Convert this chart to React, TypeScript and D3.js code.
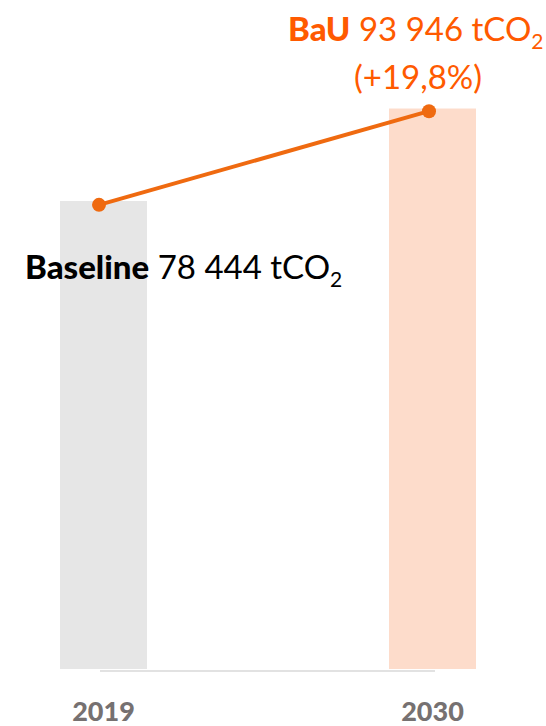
import React from "react";
import * as d3 from "d3";

const categories = ["2019", "2030"];
const barValues = [78444, 93946];
const lineValues = [77800, 93500];
const barColors = ["#e6e6e6", "#fddccb"];
const yearLabels = ["2019", "2030"];

const W = 546;
const H = 726;

export default function App() {
  const x = d3.scaleOrdinal<string, number>().domain(categories).range([60, 389]);
  const y = d3.scaleLinear().domain([0, 78444]).range([669, 201]);
  const lx = d3.scalePoint<string>().domain(categories).range([99, 429]);
  const bw = 87;
  const line = d3
    .line<number>()
    .x((_, i) => lx(categories[i]) as number)
    .y((d) => y(d));
  const font = "Lato, 'Open Sans', sans-serif";
  return (
    <svg
      width={W}
      height={H}
      style={{ position: "absolute", left: 0, top: 0, background: "#fff" }}
    >
      {barValues.map((v, i) => (
        <rect key={i} x={x(categories[i])} y={y(v)} width={bw} height={y(0) - y(v)} fill={barColors[i]} />
      ))}
      <line x1={100} x2={435} y1={671} y2={671} stroke="#d9d9d9" strokeWidth={1.5} />
      <path d={line(lineValues) || ""} fill="none" stroke="#ef6a10" strokeWidth={4} />
      {lineValues.map((v, i) => (
        <circle key={i} cx={lx(categories[i]) as number} cy={y(v)} r={7} fill="#ef6a10" />
      ))}
      {yearLabels.map((t, i) => (
        <text
          key={t}
          x={x(categories[i]) + bw / 2}
          y={721}
          textAnchor="middle"
          fontFamily={font}
          fontWeight="900"
          fontSize={27}
          fill="#767171"
        >
          {t}
        </text>
      ))}
      <text x={288} y={41} fontFamily={font} fontSize={33} fill="#ff5a00">
        <tspan fontWeight="900">BaU</tspan>
        <tspan> 93 946 tCO</tspan>
        <tspan fontSize={21} dy={8}>2</tspan>
      </text>
      <text x={418} y={89} textAnchor="middle" fontFamily={font} fontSize={33} fill="#ff5a00">
        (+19,8%)
      </text>
      <text x={25} y={279} fontFamily={font} fontSize={33} fill="#000">
        <tspan fontWeight="900">Baseline</tspan>
        <tspan> 78 444 tCO</tspan>
        <tspan fontSize={21} dy={8}>2</tspan>
      </text>
    </svg>
  );
}
